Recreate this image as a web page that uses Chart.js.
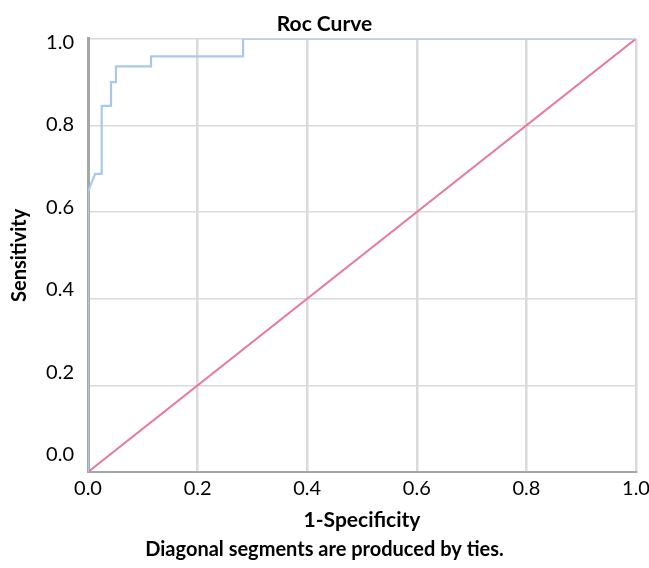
<!DOCTYPE html>
<html><head><meta charset="utf-8">
<script src="https://cdn.jsdelivr.net/npm/chart.js@4"></script>
<style>html,body{margin:0;padding:0;background:#fff;overflow:hidden}#wrap{width:649px;height:568px}canvas{display:block}</style>
</head><body><div id="wrap"><canvas id="c" width="649" height="568"></canvas></div>
<script>
// ROC curve (1-Specificity, Sensitivity)
const rocFpr  = [0, 0,     0.013, 0.025, 0.025, 0.042, 0.042, 0.051, 0.051, 0.115, 0.115, 0.283, 0.283, 1];
const rocSens = [0, 0.647, 0.688, 0.688, 0.845, 0.845, 0.900, 0.900, 0.936, 0.936, 0.959, 0.959, 1.0,   1.0];
// Reference (chance) line
const refFpr  = [0, 1];
const refSens = [0, 1];
// Tick labels
const tickValues = [0, 0.2, 0.4, 0.6, 0.8, 1.0];
const chartTitle = 'Roc Curve';
const xTitle = '1-Specificity';
const yTitle = 'Sensitivity';
const caption = 'Diagonal segments are produced by ties.';

const FONT = 'Lato';
const fix = v => Number(v).toFixed(1);
const setTicks = s => { s.ticks = tickValues.map(v => ({ value: v })); };

new Chart(document.getElementById('c'), {
  type: 'scatter',
  data: {
    datasets: [
      {
        label: 'ROC',
        data: rocFpr.map((x, i) => ({ x: x, y: rocSens[i] })),
        showLine: true, borderColor: '#a9c8ef', borderWidth: 2.2,
        pointRadius: 0, tension: 0, yAxisID: 'y', xAxisID: 'x'
      },
      {
        label: 'Reference',
        data: refFpr.map((x, i) => ({ x: x, y: refSens[i] })),
        showLine: true, borderColor: '#e8799a', borderWidth: 2,
        pointRadius: 0, tension: 0, yAxisID: 'y', xAxisID: 'x'
      }
    ]
  },
  options: {
    responsive: false,
    animation: false,
    devicePixelRatio: 1,
    layout: { autoPadding: false, padding: 0 },
    plugins: {
      legend: { display: false },
      tooltip: { enabled: false },
      title: {
        display: true, text: chartTitle, color: '#000',
        font: { family: FONT, size: 21, weight: 'bold' },
        padding: { top: 12, bottom: 1.5 }
      },
      subtitle: {
        display: true, text: caption, position: 'bottom', color: '#000',
        font: { family: FONT, size: 20, weight: 'bold' },
        padding: { top: 0, bottom: 6 }
      }
    },
    scales: {
      x: {
        type: 'linear', min: 0, max: 1, position: 'bottom',
        afterBuildTicks: setTicks,
        afterFit: s => { s.height = 66; s.paddingLeft = 0; s.paddingRight = 0; },
        ticks: { color: '#000', font: { family: FONT, size: 20 }, padding: 5, callback: fix, maxRotation: 0 },
        grid: { color: '#dadada', lineWidth: 2.5, drawTicks: false },
        border: { color: '#a6a6a6', width: 2 },
        title: {
          display: true, text: xTitle, color: '#000',
          font: { family: FONT, size: 21, weight: 'bold' },
          padding: { top: 0, bottom: 5.5 }
        }
      },
      y: {
        type: 'linear', min: 0, max: 1, position: 'left', weight: 0,
        afterBuildTicks: setTicks,
        afterFit: s => { s.width = 0; s.paddingTop = 0; s.paddingBottom = 0; },
        ticks: { display: false },
        grid: { color: '#dadada', lineWidth: 1.5, drawTicks: false },
        border: { color: '#a6a6a6', width: 3 }
      },
      yl: {
        type: 'linear', min: -0.0412, max: 1.0085, position: 'left', weight: 1,
        afterBuildTicks: setTicks,
        afterFit: s => { s.width = 88; s.paddingTop = 0; s.paddingBottom = 0; },
        ticks: { color: '#000', font: { family: FONT, size: 20 }, padding: 14, callback: fix },
        grid: { display: false, drawTicks: false },
        border: { display: false },
        title: {
          display: true, text: yTitle, color: '#000',
          font: { family: FONT, size: 20, weight: 'bold' },
          padding: { top: 8, bottom: 0 }
        }
      },
      yr: {
        type: 'linear', min: 0, max: 1, position: 'right',
        afterFit: s => { s.width = 13; s.paddingTop = 0; s.paddingBottom = 0; },
        ticks: { display: false },
        grid: { display: false, drawTicks: false },
        border: { display: false }
      }
    }
  }
});
</script>
</body></html>
